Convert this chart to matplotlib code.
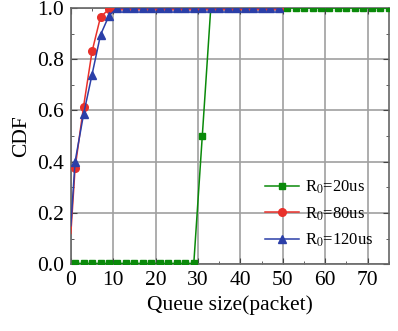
import matplotlib.pyplot as plt
from matplotlib.ticker import MultipleLocator

plt.rcParams['font.family'] = ['Liberation Serif', 'DejaVu Serif']
plt.rcParams['mathtext.fontset'] = 'stix'

# queue size samples (odd packets) and CDF values
x_20 = list(range(1, 76, 2))
cdf_20 = [0.003] * 15 + [0.5] + [1.0] * 22

x_80 = [0] + list(range(1, 50, 2))
cdf_80 = [0.12, 0.375, 0.615, 0.83, 0.965, 0.995] + [1.0] * 20

x_120 = [0] + list(range(1, 50, 2))
cdf_120 = [0.15, 0.40, 0.585, 0.74, 0.895, 0.97] + [1.0] * 20

labels = ['R$_0$=20us', 'R$_0$=80us', 'R$_0$=120us']

fig = plt.figure(figsize=(3.98, 3.31), dpi=100)
ax = fig.add_axes([0.178, 0.202, 0.799, 0.774])

ax.plot(x_20, cdf_20, color='#0a8a0a', marker='s', markersize=5, lw=1.1,
        label=labels[0], zorder=3)
ax.plot(x_80, cdf_80, color='#e8302a', marker='o', markersize=5.5, lw=1.1,
        markevery=slice(1, None), label=labels[1], zorder=3)
ax.plot(x_120, cdf_120, color='#2b3fa8', marker='^', markersize=5.5, lw=1.1,
        markevery=slice(1, None), label=labels[2], zorder=4)

ax.set_xlim(0, 75)
ax.set_ylim(0, 1.0)
ax.xaxis.set_major_locator(MultipleLocator(10))
ax.xaxis.set_minor_locator(MultipleLocator(5))
ax.yaxis.set_major_locator(MultipleLocator(0.2))
ax.yaxis.set_minor_locator(MultipleLocator(0.1))
ax.yaxis.set_major_formatter(plt.FormatStrFormatter('%.1f'))

ax.tick_params(which='both', direction='in', top=True, right=True,
               color='#444444', labelsize=15.5, pad=5)
ax.tick_params(which='major', length=4)
ax.tick_params(which='minor', length=2.5)
ax.grid(True, which='major', color='#a0a0a0', lw=1.2)
ax.set_axisbelow(True)
for s in ax.spines.values():
    s.set_color('#666666')
    s.set_linewidth(1.2)

ax.set_xlabel('Queue size(packet)', fontsize=15.5, labelpad=4)
ax.set_ylabel('CDF', fontsize=15.5, labelpad=4)
ax.legend(loc='lower right', frameon=False, fontsize=12, handlelength=2.0,
          handletextpad=0.4, labelspacing=0.55, bbox_to_anchor=(1.0, 0.0))

fig.savefig('out.png', dpi=100)
